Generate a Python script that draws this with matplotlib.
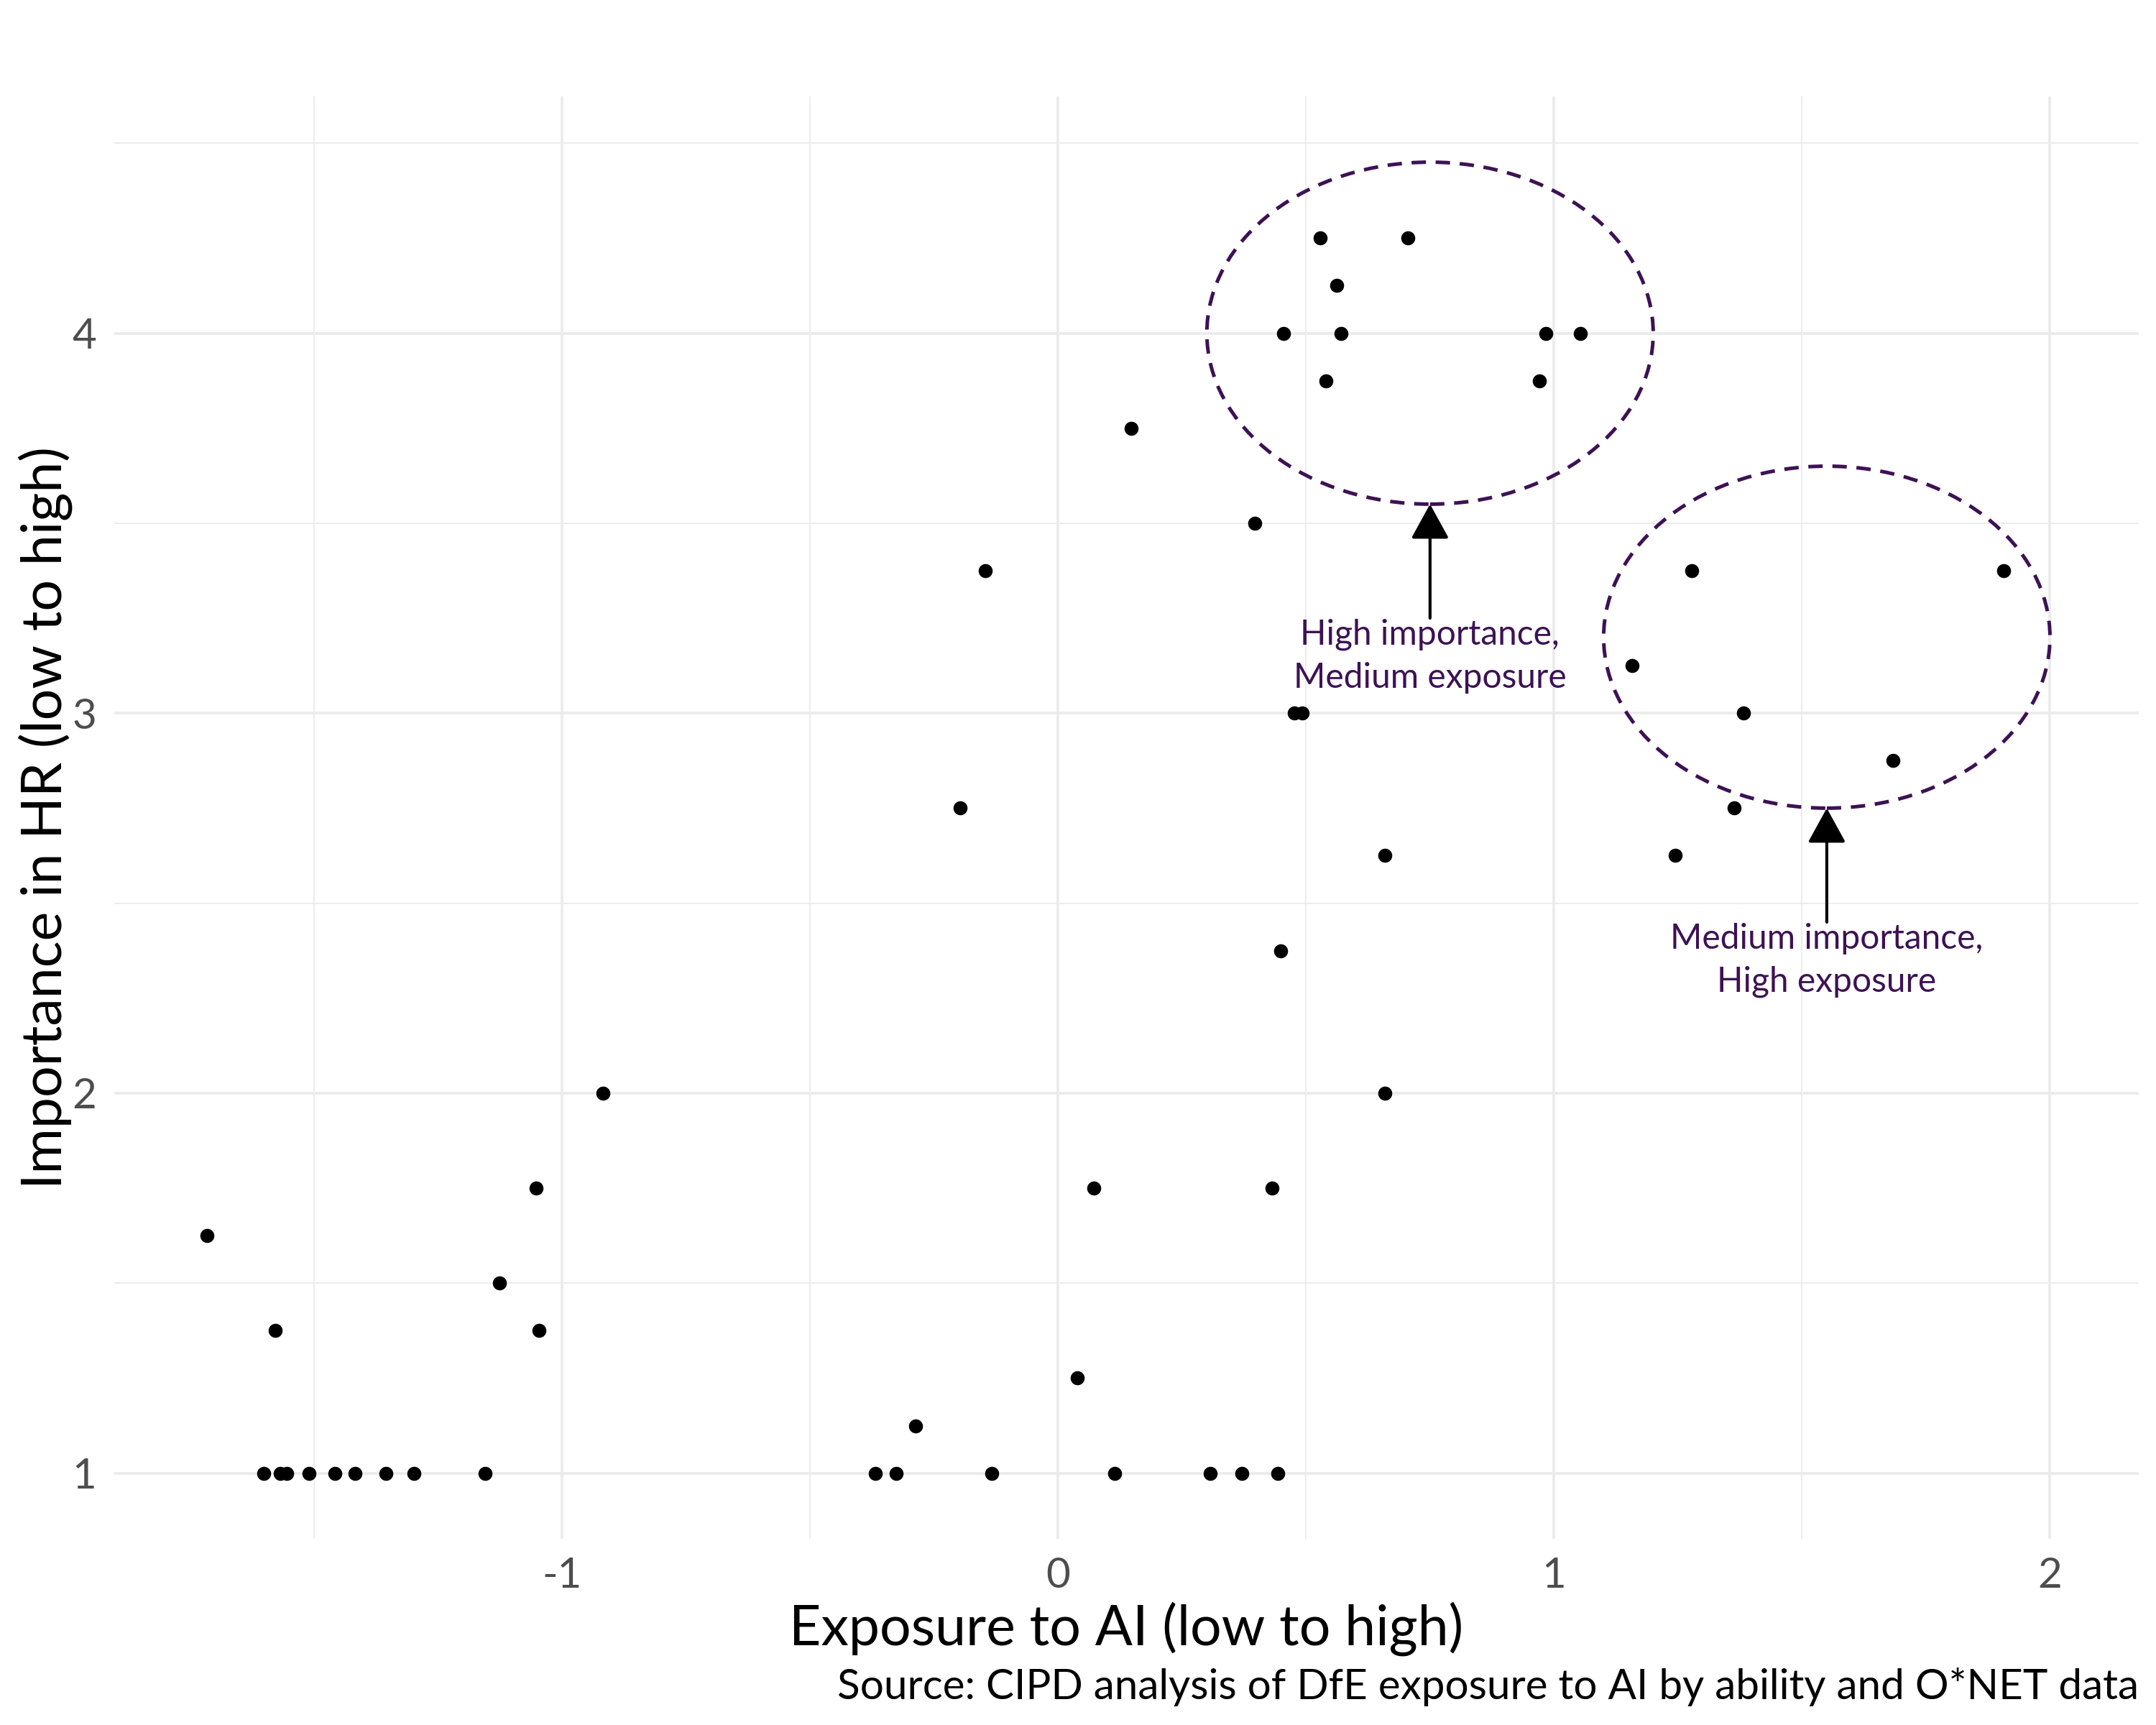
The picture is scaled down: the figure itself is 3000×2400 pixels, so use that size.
import matplotlib.pyplot as plt
from matplotlib.patches import Ellipse

# occupations: exposure to AI vs importance in HR
exposure = [
    -1.716, -1.579, -1.601, -1.568, -1.555, -1.510, -1.458, -1.418, -1.355, -1.299,
    -1.155, -1.127, -1.052, -1.047, -0.917, -0.368, -0.327, -0.288, -0.197, -0.147,
    -0.133, 0.039, 0.072, 0.114, 0.147, 0.307, 0.371, 0.443, 0.396, 0.432,
    0.449, 0.454, 0.476, 0.493, 0.529, 0.540, 0.562, 0.571, 0.659, 0.659,
    0.706, 0.970, 0.983, 1.053, 1.158, 1.244, 1.277, 1.363, 1.382, 1.684, 1.906,
]
importance = [
    1.625, 1.375, 1.0, 1.0, 1.0, 1.0, 1.0, 1.0, 1.0, 1.0,
    1.0, 1.5, 1.75, 1.375, 2.0, 1.0, 1.0, 1.125, 2.75, 3.375,
    1.0, 1.25, 1.75, 1.0, 3.75, 1.0, 1.0, 1.0, 3.5, 1.75,
    2.375, 4.0, 3.0, 3.0, 4.25, 3.875, 4.125, 4.0, 2.625, 2.0,
    4.25, 3.875, 4.0, 4.0, 3.125, 2.625, 3.375, 2.75, 3.0, 2.875, 3.375,
]

# highlighted groups: circle centre, radius, label
circle_x = [0.75, 1.55]
circle_y = [4.0, 3.2]
circle_r = [0.45, 0.45]
labels = ["High importance,\nMedium exposure", "Medium importance,\nHigh exposure"]

purple = "#3d1254"
grid_col = "#ebebeb"
plt.rcParams["font.family"] = ["Lato", "DejaVu Sans"]
plt.rcParams["axes.unicode_minus"] = False

fig = plt.figure(figsize=(10, 8), dpi=300)
ax = fig.add_axes([0.053, 0.108, 0.939, 0.836])

ax.scatter(exposure, importance, s=22, c="black", linewidths=0, zorder=3)

for cx, cy, r, lab in zip(circle_x, circle_y, circle_r, labels):
    ax.add_patch(Ellipse((cx, cy), 2 * r, 2 * r, fill=False, edgecolor=purple,
                         lw=1.2, linestyle=(0, (4.0, 2.7)), zorder=2))
    ax.annotate("", xy=(cx, cy - r), xytext=(cx, cy - r - 0.3),
                arrowprops=dict(arrowstyle="-|>,head_length=1.0,head_width=0.55",
                                color="black", lw=1.0, shrinkA=0, shrinkB=0,
                                mutation_scale=10), zorder=4)
    ax.text(cx, cy - r - 0.4, lab, ha="center", va="center", color=purple,
            fontsize=11.5, linespacing=1.45, zorder=4)

ax.set_xlim(-1.903, 2.179)
ax.set_ylim(0.8275, 4.6225)
ax.set_xticks([-1, 0, 1, 2])
ax.set_xticks([-1.5, -0.5, 0.5, 1.5], minor=True)
ax.set_yticks([1, 2, 3, 4])
ax.set_yticks([1.5, 2.5, 3.5, 4.5], minor=True)
ax.grid(True, which="major", color=grid_col, lw=0.9)
ax.grid(True, which="minor", color=grid_col, lw=0.45)
ax.set_axisbelow(True)
for s in ax.spines.values():
    s.set_visible(False)
ax.tick_params(which="both", length=0)
ax.tick_params(axis="both", labelsize=14, labelcolor="#4d4d4d")
ax.tick_params(axis="x", pad=6)
ax.tick_params(axis="y", pad=6)

ax.set_xlabel("Exposure to AI (low to high)", fontsize=18.5, va="center")
ax.set_ylabel("Importance in HR (low to high)", fontsize=18.5, va="center")
ax.xaxis.set_label_coords(0.5, -0.0625)
ax.yaxis.set_label_coords(-0.034, 0.5)

fig.text(0.992, 0.022, "Source: CIPD analysis of DfE exposure to AI by ability and O*NET data",
         ha="right", va="center", fontsize=14)

fig.savefig("out.png", dpi=300)
